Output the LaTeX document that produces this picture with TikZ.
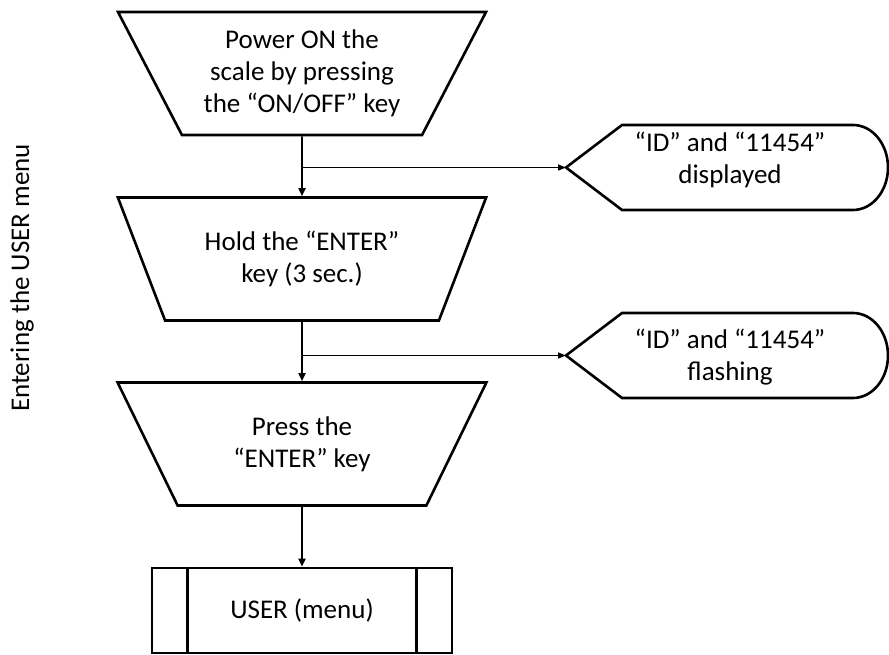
\documentclass[tikz,border=0pt]{standalone}
\usepackage{fontspec}
\setmainfont{Carlito}
\usetikzlibrary{shapes.geometric,arrows.meta}
\begin{document}
\begin{tikzpicture}[x=1pt,y=-1pt,
  txt/.style={font=\fontsize{27}{32}\selectfont, text=black, align=center},
  trap/.style={txt, trapezium, draw, line width=2.6pt, shape border rotate=180,
    trapezium left angle=59, trapezium right angle=59, trapezium stretches=true,
    minimum width=369pt, minimum height=123pt, inner sep=0pt},
  disp/.style={draw, line width=2.6pt, line join=miter},
  procbox/.style={txt, draw, line width=2.6pt, minimum width=300pt, minimum height=85pt, inner sep=0pt},
  flow/.style={line width=1.8pt, -{Triangle[length=8pt,width=7pt]}},
  branch/.style={line width=1.4pt, -{Triangle[length=8pt,width=6pt]}}]
\useasboundingbox (0,0) rectangle (889,655);

\node[txt, rotate=90] (lbl) at (22,278) {Entering the USER menu};

\node[trap] (t1) at (302,73.5) {Power ON the\\scale by pressing\\the “ON/OFF” key};
\node[trap] (t2) at (302,259) {Hold the “ENTER”\\key (3 sec.)};
\node[trap] (t3) at (302,444) {Press the\\“ENTER” key};
\node[procbox] (u) at (302,610.5) {USER (menu)};
\draw[line width=2.6pt] ([xshift=37pt]u.north west) -- ([xshift=37pt]u.south west);
\draw[line width=2.6pt] ([xshift=-37pt]u.north east) -- ([xshift=-37pt]u.south east);

% display shapes
\coordinate (d1) at (566,167.5);
\draw[disp] (d1) -- (622,125) -- (853,125) arc[start angle=90,end angle=-90,x radius=35pt,y radius=42.5pt] -- (622,210) -- cycle;
\node[txt] (d1t) at (730,160) {“ID” and “11454”\\displayed};

\coordinate (d2) at (566,355.5);
\draw[disp] (d2) -- (622,313) -- (853,313) arc[start angle=90,end angle=-90,x radius=35pt,y radius=42.5pt] -- (622,398) -- cycle;
\node[txt] (d2t) at (730,357.5) {“ID” and “11454”\\flashing};

% connectors
\draw[flow] (t1.south) -- (t2.north);
\draw[flow] (t2.south) -- (t3.north);
\draw[flow] (t3.south) -- (u.north);
\draw[branch] (t1.south |- d1) -- (d1);
\draw[branch] (t2.south |- d2) -- (d2);
\end{tikzpicture}
\end{document}
